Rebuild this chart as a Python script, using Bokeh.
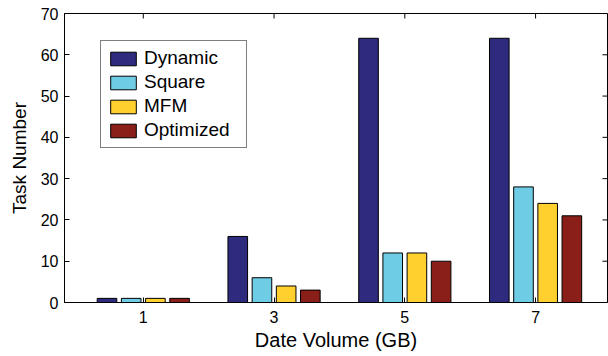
import math
from bokeh.plotting import figure
from bokeh.models import (ColumnDataSource, Range1d, FixedTicker,
                          Legend, LegendItem)
from bokeh.transform import dodge
from bokeh.embed import file_html
from bokeh.resources import INLINE

# ---- data ----
volumes = [1, 3, 5, 7]
tick_labels = ["1", "3", "5", "7"]
series_names = ["Dynamic", "Square", "MFM", "Optimized"]
dynamic = [1, 16, 64, 64]
square = [1, 6, 12, 28]
mfm = [1, 4, 12, 24]
optimized = [1, 3, 10, 21]
y_ticks = [0, 10, 20, 30, 40, 50, 60, 70]

colors = ["#2e2a7e", "#6ecce4", "#ffd02e", "#8a1e18"]
FONT = "Liberation Sans"

source = ColumnDataSource(data=dict(x=volumes, Dynamic=dynamic, Square=square,
                                    MFM=mfm, Optimized=optimized))

x_lo, x_hi = -0.205, 8.1
y_lo, y_hi = 0, 70

p = figure(width=608, height=356, output_backend="svg", toolbar_location=None,
           x_range=Range1d(x_lo, x_hi), y_range=Range1d(y_lo, y_hi),
           min_border_left=64, min_border_right=1, min_border_top=13,
           min_border_bottom=54)

p.xgrid.visible = False
p.ygrid.visible = False
p.outline_line_color = "black"
p.outline_line_width = 1
p.background_fill_color = "white"
p.border_fill_color = "white"

bar_w = 0.30
pitch = 0.37
offsets = [-1.5 * pitch, -0.5 * pitch, 0.5 * pitch, 1.5 * pitch]

renderers = []
for name, col, off in zip(series_names, colors, offsets):
    r = p.vbar(x=dodge("x", off, range=p.x_range), top=name, width=bar_w,
               source=source, fill_color=col, line_color="black",
               line_width=1)
    renderers.append(r)

# inward ticks on the top and right sides of the box
p.ray(x=volumes, y=[y_hi] * len(volumes), length=5, length_units="screen",
      angle=-math.pi / 2, line_color="black", line_width=1)
p.ray(x=[x_hi] * len(y_ticks), y=y_ticks, length=5, length_units="screen",
      angle=math.pi, line_color="black", line_width=1)

# axes styling
for ax in (p.xaxis[0], p.yaxis[0]):
    ax.major_tick_in = 5
    ax.major_tick_out = 0
    ax.minor_tick_in = 0
    ax.minor_tick_out = 0
    ax.axis_line_color = "black"
    ax.major_tick_line_color = "black"
    ax.major_label_text_font = FONT
    ax.major_label_text_font_size = "16px"
    ax.major_label_text_color = "black"
    ax.axis_label_text_font = FONT
    ax.axis_label_text_font_style = "normal"
    ax.axis_label_text_color = "black"

p.xaxis.ticker = FixedTicker(ticks=volumes)
p.xaxis.major_label_overrides = {v: t for v, t in zip(volumes, tick_labels)}
p.yaxis.ticker = FixedTicker(ticks=y_ticks)
p.xaxis.axis_label = "Date Volume (GB)"
p.yaxis.axis_label = "Task Number"
p.xaxis.axis_label_text_font_size = "20px"
p.yaxis.axis_label_text_font_size = "19px"
p.xaxis.major_label_standoff = 8
p.xaxis.axis_label_standoff = 3
p.yaxis.major_label_standoff = 6
p.yaxis.axis_label_standoff = 8

legend = Legend(items=[LegendItem(label=n, renderers=[r])
                       for n, r in zip(series_names, renderers)],
                location=(36, 154))
legend.label_text_font = FONT
legend.label_text_font_size = "19px"
legend.label_text_color = "black"
legend.glyph_width = 32
legend.glyph_height = 17
legend.label_height = 17
legend.label_width = 96
legend.label_standoff = 5
legend.spacing = 2
legend.padding = 6
legend.margin = 0
legend.border_line_color = "black"
legend.border_line_width = 1
legend.background_fill_alpha = 1.0
p.add_layout(legend, "center")

open("out.html", "w").write(file_html(p, INLINE))
